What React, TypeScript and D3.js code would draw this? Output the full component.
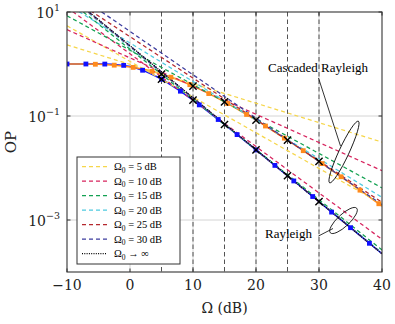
import React, { useEffect, useRef } from 'react';
import * as d3 from 'd3';

// exact curves, sampled every 2.5 dB
const omegaDb = [-10, -7.5, -5, -2.5, 0, 2.5, 5, 7.5, 10, 12.5, 15, 17.5, 20, 22.5, 25, 27.5, 30, 32.5, 35, 37.5, 40];
const opRayleigh = [1.0, 1.0, 0.99919, 0.9817, 0.8946, 0.71784, 0.50909, 0.32976, 0.20148, 0.11885, 0.068679, 0.039222, 0.022249, 0.012573, 0.0070899, 0.0039932, 0.0022475, 0.0012645, 0.00071126, 0.00040004, 0.00022497];
const opCascaded = [0.9997, 0.99714, 0.98512, 0.95006, 0.87953, 0.7721, 0.6404, 0.50293, 0.37625, 0.27007, 0.1873, 0.12629, 0.083202, 0.053796, 0.034249, 0.021529, 0.013389, 0.0082537, 0.0050495, 0.0030694, 0.0018554];

// markers
const rayMarkDb = [-10, -7, -4, -1, 2, 5, 8, 11, 14, 17, 20, 23, 26, 29, 32, 35, 38];
const rayMarkOp = [1.0, 1.0, 0.99649, 0.94113, 0.75821, 0.50909, 0.29995, 0.16366, 0.085678, 0.043901, 0.022249, 0.011214, 0.0056358, 0.0028286, 0.0014187, 0.00071126, 0.00035654];
const casMarkDb = [-5.5, -2.5, 0.5, 3.5, 6.5, 9.5, 12.5, 15.5, 18.5, 21.5, 24.5, 27.5, 30.5, 33.5, 36.5, 39.5];
const casMarkOp = [0.98888, 0.95006, 0.86061, 0.72142, 0.55741, 0.40015, 0.27007, 0.17346, 0.10714, 0.064178, 0.037527, 0.021529, 0.012162, 0.0067865, 0.0037483, 0.0020527];

// tangent (dashed) lines at Omega0
const omega0Db = [5, 10, 15, 20, 25, 30];
const rayAtOmega0 = [0.50909, 0.20148, 0.068679, 0.022249, 0.0070899, 0.0022475];
const casAtOmega0 = [0.6404, 0.37625, 0.1873, 0.083202, 0.034249, 0.013389];
const tangentDb = [-10, 40];
const rayTangentLeft = [5.444, 12.24, 17.74, 20.6, 21.79, 22.25];
const rayTangentRight = [0.0020206, 0.0004257, 0.00026589, 0.0002343, 0.00022697, 0.00022533];
const casTangentLeft = [2.329, 4.569, 8.459, 14.03, 20.96, 28.81];
const casTangentRight = [0.031489, 0.0088895, 0.0041478, 0.0027263, 0.0021896, 0.001966];
const asymptoteOp = [22.5, 0.000225];

const tangentColors = ['#f6d64a', '#d7245e', '#13a152', '#4ecae0', '#b5282e', '#3d3d9e'];
const xTicks = [-10, 0, 10, 20, 30, 40];
const yTicks = [1, -1, -3];
const vLines = [5, 10, 15, 20, 25, 30];

const W = 395, H = 324;
const M = { left: 67, right: 382, top: 12, bottom: 272 };
const serif = '"Liberation Serif", "Times New Roman", serif';
const tickFont = '"DejaVu Serif", serif';

export default function App() {
  const svgRef = useRef<SVGSVGElement>(null);

  useEffect(() => {
    const svg = d3.select(svgRef.current);
    svg.selectAll('*').remove();

    const x = d3.scaleLinear().domain([-10, 40]).range([M.left, M.right]);
    const y = d3.scaleLog().domain([1e-4, 10]).range([M.bottom, M.top]);

    svg.append('defs').append('clipPath').attr('id', 'plot')
      .append('rect').attr('x', M.left).attr('y', M.top)
      .attr('width', M.right - M.left).attr('height', M.bottom - M.top);

    // grid
    const grid = svg.append('g').attr('stroke', '#cfcfcf').attr('stroke-width', 0.9);
    xTicks.slice(1, -1).forEach(t => {
      grid.append('line').attr('x1', x(t)).attr('x2', x(t)).attr('y1', M.top).attr('y2', M.bottom);
    });
    yTicks.slice(1).forEach(p => {
      grid.append('line').attr('x1', M.left).attr('x2', M.right).attr('y1', y(10 ** p)).attr('y2', y(10 ** p));
    });

    // vertical dashed markers of Omega0
    vLines.forEach(v => {
      svg.append('line').attr('x1', x(v)).attr('x2', x(v)).attr('y1', M.top).attr('y2', M.bottom)
        .attr('stroke', '#404040').attr('stroke-width', 0.9).attr('stroke-dasharray', '4.5,3');
    });

    const plot = svg.append('g').attr('clip-path', 'url(#plot)');

    const line = d3.line<[number, number]>()
      .x(d => x(d[0])).y(d => y(d[1]))
      .curve(d3.curveCatmullRom);

    plot.append('path').attr('d', line(omegaDb.map((o, i) => [o, opRayleigh[i]])))
      .attr('fill', 'none').attr('stroke', '#1010ff').attr('stroke-width', 1.5);
    plot.append('path').attr('d', line(omegaDb.map((o, i) => [o, opCascaded[i]])))
      .attr('fill', 'none').attr('stroke', '#ff8a1c').attr('stroke-width', 1.5);

    const straight = d3.line<[number, number]>().x(d => x(d[0])).y(d => y(d[1]));
    omega0Db.forEach((_, i) => {
      plot.append('path')
        .attr('d', straight([[tangentDb[0], rayTangentLeft[i]], [tangentDb[1], rayTangentRight[i]]]))
        .attr('fill', 'none').attr('stroke', tangentColors[i]).attr('stroke-width', 1.25)
        .attr('stroke-dasharray', '4,3');
      plot.append('path')
        .attr('d', straight([[tangentDb[0], casTangentLeft[i]], [tangentDb[1], casTangentRight[i]]]))
        .attr('fill', 'none').attr('stroke', tangentColors[i]).attr('stroke-width', 1.25)
        .attr('stroke-dasharray', '4,3');
    });
    plot.append('path')
      .attr('d', straight([[tangentDb[0], asymptoteOp[0]], [tangentDb[1], asymptoteOp[1]]]))
      .attr('fill', 'none').attr('stroke', '#000').attr('stroke-width', 1.2)
      .attr('stroke-dasharray', '1,1.3');

    const sq = 4.8;
    plot.selectAll('rect.ray').data(rayMarkDb).enter().append('rect')
      .attr('x', (d) => x(d) - sq / 2).attr('y', (d, i) => y(rayMarkOp[i]) - sq / 2)
      .attr('width', sq).attr('height', sq).attr('fill', '#1010ff');
    plot.selectAll('rect.cas').data(casMarkDb).enter().append('rect')
      .attr('x', (d) => x(d) - sq / 2).attr('y', (d, i) => y(casMarkOp[i]) - sq / 2)
      .attr('width', sq).attr('height', sq).attr('fill', '#ff8a1c');

    // x markers at Omega0
    const cross = (cx: number, cy: number) => {
      const r = 3.6;
      svg.append('path').attr('d', `M${cx - r},${cy - r}L${cx + r},${cy + r}M${cx - r},${cy + r}L${cx + r},${cy - r}`)
        .attr('stroke', '#000').attr('stroke-width', 1.4);
    };
    omega0Db.forEach((o, i) => {
      cross(x(o), y(rayAtOmega0[i]));
      cross(x(o), y(casAtOmega0[i]));
    });

    // frame
    svg.append('rect').attr('x', M.left).attr('y', M.top)
      .attr('width', M.right - M.left).attr('height', M.bottom - M.top)
      .attr('fill', 'none').attr('stroke', '#333').attr('stroke-width', 1.1);

    // ticks + labels
    xTicks.forEach(t => {
      svg.append('line').attr('x1', x(t)).attr('x2', x(t)).attr('y1', M.bottom).attr('y2', M.bottom - 3.5)
        .attr('stroke', '#333');
      svg.append('line').attr('x1', x(t)).attr('x2', x(t)).attr('y1', M.top).attr('y2', M.top + 3.5)
        .attr('stroke', '#333');
      svg.append('text').attr('x', x(t)).attr('y', 290).attr('text-anchor', 'middle')
        .style('font-family', tickFont).style('font-size', '14px').attr('fill', '#222')
        .text(t < 0 ? `\u2212${-t}` : `${t}`);
    });
    yTicks.forEach(p => {
      const yy = y(10 ** p);
      svg.append('line').attr('x1', M.left).attr('x2', M.left + 3.5).attr('y1', yy).attr('y2', yy).attr('stroke', '#333');
      svg.append('line').attr('x1', M.right).attr('x2', M.right - 3.5).attr('y1', yy).attr('y2', yy).attr('stroke', '#333');
      const tx = svg.append('text').attr('x', 60).attr('y', yy + 5.5).attr('text-anchor', 'end')
        .style('font-family', tickFont).style('font-size', '14px').attr('fill', '#222');
      tx.append('tspan').text('10');
      tx.append('tspan').attr('dy', -6.5).style('font-size', '9.5px').text(p < 0 ? `\u2212${-p}` : `${p}`);
    });

    svg.append('text').attr('x', (M.left + M.right) / 2).attr('y', 313).attr('text-anchor', 'middle')
      .style('font-family', tickFont).style('font-size', '14px').attr('fill', '#222').text('\u03A9 (dB)');
    svg.append('text').attr('transform', `translate(16,${(M.top + M.bottom) / 2}) rotate(-90)`)
      .attr('text-anchor', 'middle').style('font-family', tickFont).style('font-size', '15px')
      .attr('fill', '#222').text('OP');

    // annotations
    svg.append('text').attr('x', 318).attr('y', 72).attr('text-anchor', 'middle')
      .style('font-family', serif).style('font-size', '13px').text('Cascaded Rayleigh');
    svg.append('line').attr('x1', 318.5).attr('y1', 78).attr('x2', 340.5).attr('y2', 146)
      .attr('stroke', '#000').attr('stroke-width', 0.8);
    svg.append('ellipse').attr('cx', 0).attr('cy', 0).attr('rx', 34).attr('ry', 5)
      .attr('transform', 'translate(344,152) rotate(-65)')
      .attr('fill', 'none').attr('stroke', '#000').attr('stroke-width', 0.8);

    svg.append('text').attr('x', 288.5).attr('y', 238).attr('text-anchor', 'middle')
      .style('font-family', serif).style('font-size', '13px').text('Rayleigh');
    svg.append('line').attr('x1', 318.5).attr('y1', 236).attr('x2', 333).attr('y2', 228.5)
      .attr('stroke', '#000').attr('stroke-width', 0.8);
    svg.append('ellipse').attr('cx', 0).attr('cy', 0).attr('rx', 18).attr('ry', 6)
      .attr('transform', 'translate(343.5,220.5) rotate(-43)')
      .attr('fill', 'none').attr('stroke', '#000').attr('stroke-width', 0.8);

    // legend
    const lg = svg.append('g');
    lg.append('rect').attr('x', 77).attr('y', 157).attr('width', 103).attr('height', 107)
      .attr('fill', '#fff').attr('stroke', '#333').attr('stroke-width', 1);
    const rows = omega0Db.map((o, i) => ({ color: tangentColors[i], label: `${o} dB`, dash: '4,3', inf: false }))
      .concat([{ color: '#000', label: '', dash: '1,1.3', inf: true }]);
    rows.forEach((r, i) => {
      const ry = 166.5 + i * 14.5;
      lg.append('line').attr('x1', 82).attr('x2', 107).attr('y1', ry).attr('y2', ry)
        .attr('stroke', r.color).attr('stroke-width', 1.25).attr('stroke-dasharray', r.dash);
      const t = lg.append('text').attr('x', 114).attr('y', ry + 3.5)
        .style('font-family', serif).style('font-size', '10.5px');
      t.append('tspan').text('\u03A9');
      t.append('tspan').attr('dy', 2.5).style('font-size', '7.5px').text('0');
      t.append('tspan').attr('dy', -2.5).text(r.inf ? ' \u2192 \u221E' : ` = ${r.label}`);
    });
  }, []);

  return (
    <svg ref={svgRef} width={W} height={H}
      style={{ position: 'absolute', left: 0, top: 0, background: '#fff' }} />
  );
}
